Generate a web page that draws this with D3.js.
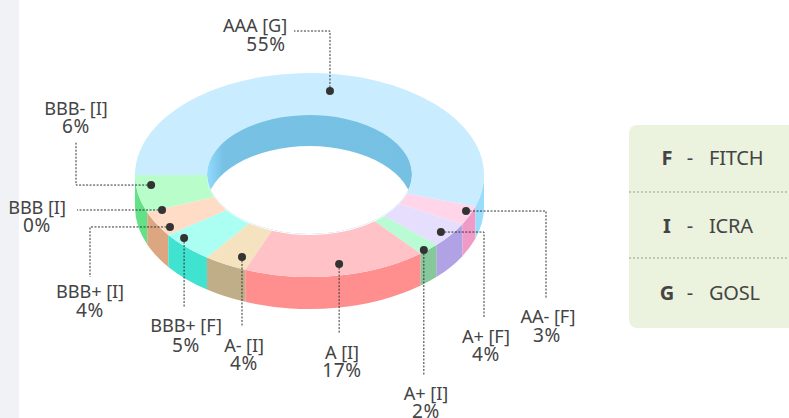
<!DOCTYPE html>
<html>
<head>
<meta charset="utf-8">
<script src="https://cdnjs.cloudflare.com/ajax/libs/d3/7.8.5/d3.min.js"></script>
<style>
html,body{margin:0;padding:0;background:#fff;overflow:hidden}
text{font-family:"Noto Sans",sans-serif;fill:#444}
</style>
</head>
<body>
<svg id="chart" width="789" height="418"></svg>
<script>
// Credit rating mix, in drawing order starting at nine o'clock and running anticlockwise
const ratings  = ["BBB- [I]","BBB [I]","BBB+ [I]","BBB+ [F]","A- [I]","A [I]","A+ [I]","A+ [F]","AA- [F]","AAA [G]"];
const shares   = [6,0,4,5,4,17,2,4,3,55];
const topFill  = ["#b9fdca","#ffdcc6","#ffdcc6","#abfef2","#f5e2bf","#ffc3c7","#b9fbd2","#e5defc","#ffd5ea","#c9ecff"];
const sideFill = ["#62e186","#dba680","#dba680","#3fe3d0","#c0ae88","#ff8f8f","#86c79c","#b0a2e5","#f09ac8","#9adcfb"];
const agencyKeys  = ["F","I","G"];
const agencyNames = ["FITCH","ICRA","GOSL"];

// Ring geometry
const cx = 309.5, cy = 175, rx = 174.5, ry = 102, innerRx = 102.5, depth = 32;
const squash = ry / rx;
const innerRy = innerRx * squash;

// Leader layout: dot placement relative to the slice middle, bend and end of the dashed line,
// and where the two text lines sit
const leaders = [
  {dA:-4.6, rF:.913, path:[[76,null],[76,142]], t:[[76,115],[76,133]]},
  {dA:.5,   rF:.912, path:[[77,null]], t:[[37,214],[37,232]]},
  {dA:3.7,  rF:.948, path:[[90,null],[90,277]], t:[[90,298],[90,317]]},
  {dA:-4.3, rF:.948, path:[[null,307]], t:[[186,332],[186,352]]},
  {dA:3.1,  rF:.892, path:[[null,327]], t:[[244,352],[244,370]]},
  {dA:2,    rF:.89,  path:[[null,333]], t:[[342,359],[342,377]]},
  {dA:-1.5, rF:.985, path:[[null,375]], t:[[426,400],[426,417.5]]},
  {dA:-.6,  rF:.938, path:[[484,null],[484,318]], t:[[486,343],[486,361]]},
  {dA:1.9,  rF:.964, path:[[546,null],[546,298]], t:[[548,323],[547,342]]},
  {dA:.9,   rF:.832, path:[[330,31],[294,31]], t:[[255,32],[266,51]]}
];

const svg = d3.select("#chart");
const defs = svg.append("defs");

svg.append("rect").attr("width",19).attr("height",418).attr("fill","#f0f2f5");

const start = -Math.PI/2;
const pie = d3.pie().sort(null).startAngle(start).endAngle(start - 2*Math.PI);
const slices = pie(shares);
const arc = d3.arc().innerRadius(innerRx).outerRadius(rx);

// Point on the outer rim for a d3 arc angle
const rim = a => [cx + rx*Math.sin(a), cy - ry*Math.cos(a)];

// Outer wall: only the part on the near half of the ring can be seen
const nearEnd = start - Math.PI;
const wall = d => {
  const a0 = d.startAngle, a1 = Math.max(d.endAngle, nearEnd);
  if (a0 <= a1) return null;
  const p0 = rim(a0), p1 = rim(a1);
  return `M${p0}A${rx},${ry} 0 0 0 ${p1}L${p1[0]},${p1[1]+depth}A${rx},${ry} 0 0 1 ${p0[0]},${p0[1]+depth}Z`;
};
svg.append("g").selectAll("path").data(slices).join("path")
  .attr("d", wall).attr("fill",(d,i)=>sideFill[i]);

// Inner wall of the hole, seen only at the far side
const grad = defs.append("linearGradient").attr("id","innerWall")
  .attr("gradientUnits","userSpaceOnUse").attr("x1",cx-innerRx).attr("x2",cx+innerRx).attr("y1",0).attr("y2",0);
grad.append("stop").attr("offset",0).attr("stop-color","#93daff");
grad.append("stop").attr("offset",.08).attr("stop-color","#76c1e4");
grad.append("stop").attr("offset",1).attr("stop-color","#75c0e3");
defs.append("clipPath").attr("id","holeClip").append("ellipse")
  .attr("cx",cx).attr("cy",cy-1).attr("rx",innerRx).attr("ry",innerRy);
const hole = svg.append("g").attr("clip-path","url(#holeClip)");
hole.append("rect").attr("x",cx-innerRx).attr("y",cy-innerRy-1).attr("width",2*innerRx).attr("height",2*innerRy)
  .attr("fill","url(#innerWall)");
hole.append("ellipse").attr("cx",cx).attr("cy",cy-1+depth).attr("rx",innerRx).attr("ry",innerRy).attr("fill","#fff");

// Top face
svg.append("g").attr("transform",`translate(${cx},${cy}) scale(1,${squash})`)
  .selectAll("path").data(slices).join("path")
  .attr("d",arc).attr("fill",(d,i)=>topFill[i]);

// Leaders and dots
const leaderG = svg.append("g");
slices.forEach((d,i)=>{
  const L = leaders[i];
  const mid = (d.startAngle+d.endAngle)/2 - L.dA*Math.PI/180;
  const dot = [cx + L.rF*rx*Math.sin(mid), cy - L.rF*ry*Math.cos(mid)];
  let pts = [dot], cur = dot;
  L.path.forEach(q=>{ cur = [q[0]===null?cur[0]:q[0], q[1]===null?cur[1]:q[1]]; pts.push(cur); });
  leaderG.append("path").attr("d",d3.line()(pts)).attr("fill","none")
    .attr("stroke","#333").attr("stroke-width",1).attr("stroke-dasharray","2 1.5");
  leaderG.append("circle").attr("cx",dot[0]).attr("cy",dot[1]).attr("r",4).attr("fill","#333");
});

// Labels: the percentage line is set a little wider than the rating line
const labelG = svg.append("g").attr("text-anchor","middle");
slices.forEach((d,i)=>{
  const L = leaders[i];
  labelG.append("text").attr("x",L.t[0][0]).attr("y",L.t[0][1]).attr("font-size",18.2).attr("letter-spacing",-0.1).text(ratings[i]);
  labelG.append("text").attr("x",L.t[1][0]).attr("y",L.t[1][1]).attr("font-size",19).attr("letter-spacing",0.7).text(shares[i]+"%");
});

// Agency key card, running off the right edge
const card = svg.append("g");
card.append("rect").attr("x",629).attr("y",125).attr("width",180).attr("height",203).attr("rx",8).attr("fill","#ebf2dd");
[192,258].forEach(y=>card.append("line").attr("x1",629).attr("x2",789).attr("y1",y).attr("y2",y)
  .attr("stroke","#999").attr("stroke-dasharray","2 2"));
const rowY = d3.scalePoint().domain(agencyKeys).range([165,300]);
agencyKeys.forEach((k,i)=>{
  const y = rowY(k);
  card.append("text").attr("x",667).attr("y",y).attr("font-size",20).attr("font-weight",700).attr("text-anchor","middle").text(k);
  card.append("text").attr("x",690).attr("y",y).attr("font-size",20).attr("text-anchor","middle").text("-");
  card.append("text").attr("x",709).attr("y",y).attr("font-size",20).attr("letter-spacing",-0.2).text(agencyNames[i]);
});
</script>
</body>
</html>
